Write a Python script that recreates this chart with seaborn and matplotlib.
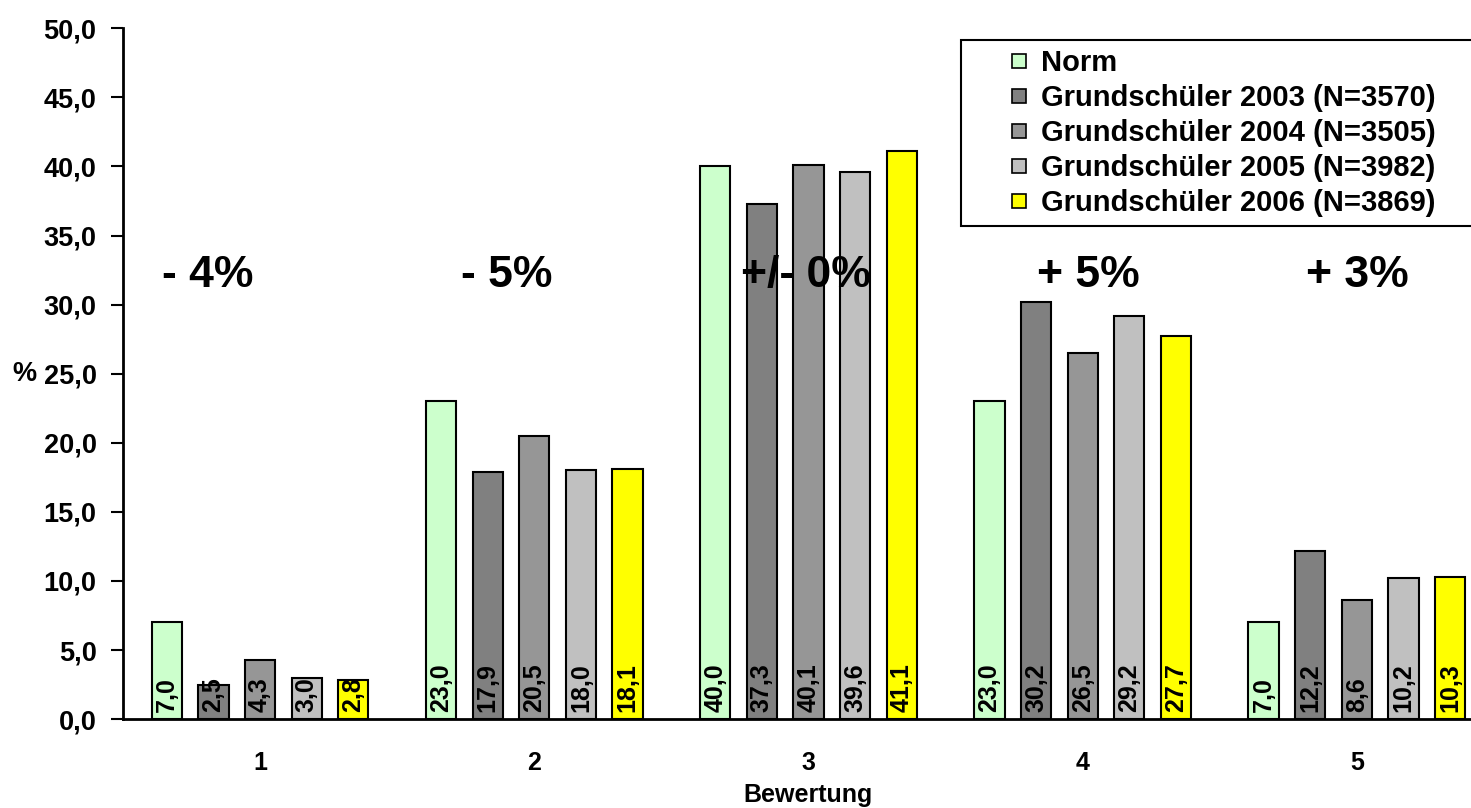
import pandas as pd
import seaborn as sns
import matplotlib.pyplot as plt
from matplotlib.lines import Line2D

# Data
categories = ["1", "2", "3", "4", "5"]
groups = [
    "Norm",
    "Grundschüler 2003 (N=3570)",
    "Grundschüler 2004 (N=3505)",
    "Grundschüler 2005 (N=3982)",
    "Grundschüler 2006 (N=3869)",
]
norm = [7.0, 23.0, 40.0, 23.0, 7.0]
gs_2003 = [2.5, 17.9, 37.3, 30.2, 12.2]
gs_2004 = [4.3, 20.5, 40.1, 26.5, 8.6]
gs_2005 = [3.0, 18.0, 39.6, 29.2, 10.2]
gs_2006 = [2.8, 18.1, 41.1, 27.7, 10.3]
changes = ["- 4%", "- 5%", "+/- 0%", "+ 5%", "+ 3%"]

colors = ["#CCFFCC", "#808080", "#969696", "#C0C0C0", "#FFFF00"]


def build_frame():
    """
    Turns the small series lists into one long table for seaborn.
    """
    rows = []
    for name, values in zip(groups, [norm, gs_2003, gs_2004, gs_2005, gs_2006]):
        for cat, val in zip(categories, values):
            rows.append({"Bewertung": cat, "Prozent": val, "Gruppe": name})
    return pd.DataFrame(rows)


def fmt(v):
    return f"{v:.1f}".replace(".", ",")


sns.set_theme(style="white")
plt.rcParams["font.family"] = ["Liberation Sans", "DejaVu Sans"]
plt.rcParams["font.weight"] = "bold"
plt.rcParams["text.color"] = "black"
plt.rcParams["axes.labelcolor"] = "black"
plt.rcParams["xtick.color"] = "black"
plt.rcParams["ytick.color"] = "black"

df = build_frame()

fig = plt.figure(figsize=(14.71, 8.08), dpi=100)
# the plot area runs past the right edge, like in the original picture
ax = fig.add_axes([0.0836, 0.110, 0.932, 0.855])

sns.barplot(data=df, x="Bewertung", y="Prozent", hue="Gruppe", palette=colors,
            saturation=1, width=0.85, gap=0.35, edgecolor="black", linewidth=1.5,
            legend=False, ax=ax)

# value labels, rotated, sitting at the bottom of each bar
for container, values in zip(ax.containers, [norm, gs_2003, gs_2004, gs_2005, gs_2006]):
    for patch, val in zip(container.patches, values):
        cx = patch.get_x() + patch.get_width() / 2
        ax.annotate(fmt(val), xy=(cx, 0), xytext=(0, 5), textcoords="offset points",
                    rotation=90, ha="center", va="bottom",
                    fontsize=18, fontweight="bold", color="black")

# big change annotations above each group
shifts = [-0.19, -0.10, -0.01, 0.02, 0.0]
for i, (txt, dx) in enumerate(zip(changes, shifts)):
    ax.text(i + dx, 32.1, txt, ha="center", va="center",
            fontsize=32, fontweight="bold", color="black")

ax.set_ylim(0, 50)
ax.set_xlim(-0.5, 4.5)
ax.set_yticks(range(0, 51, 5))
ax.set_yticklabels([fmt(v) for v in range(0, 51, 5)], fontsize=19.5, fontweight="bold")
ax.set_xticks(range(len(categories)))
ax.set_xticklabels(categories, fontsize=18, fontweight="bold")
ax.set_xticks([i - 0.5 for i in range(len(categories) + 1)], minor=True)
ax.tick_params(axis="x", which="major", length=0, pad=23)
ax.tick_params(axis="x", which="minor", length=9, width=1.5, direction="out", color="black")
ax.tick_params(axis="y", length=9, width=1.5, direction="out", color="black", left=True, pad=10)

ax.set_xlabel("Bewertung", fontsize=18, fontweight="bold", labelpad=6)
ax.set_ylabel("%", fontsize=19.5, fontweight="bold", rotation=0, va="center")
ax.yaxis.set_label_coords(-0.072, 0.5)

for side in ["top", "right"]:
    ax.spines[side].set_visible(False)
for side in ["left", "bottom"]:
    ax.spines[side].set_color("black")
    ax.spines[side].set_linewidth(2)

# legend with small square markers, set in from the frame's left edge;
# the frame is stretched so it runs off the right edge as in the original
handles = [Line2D([], [], linestyle="none", marker="s", markersize=10,
                  markerfacecolor=c, markeredgecolor="black", markeredgewidth=1.2)
           for c in colors]
leg = ax.legend(handles, groups, loc="upper left",
                bbox_to_anchor=(0.611, 0.983, 0.42, 0.0), mode="expand",
                prop={"size": 21, "weight": "bold"}, frameon=True, fancybox=False,
                framealpha=1, edgecolor="black", handlelength=3.4,
                handletextpad=-0.95, labelspacing=0.24, borderpad=0.3,
                borderaxespad=0)
leg.get_frame().set_linewidth(1.5)

fig.savefig("out.png", dpi=100)
